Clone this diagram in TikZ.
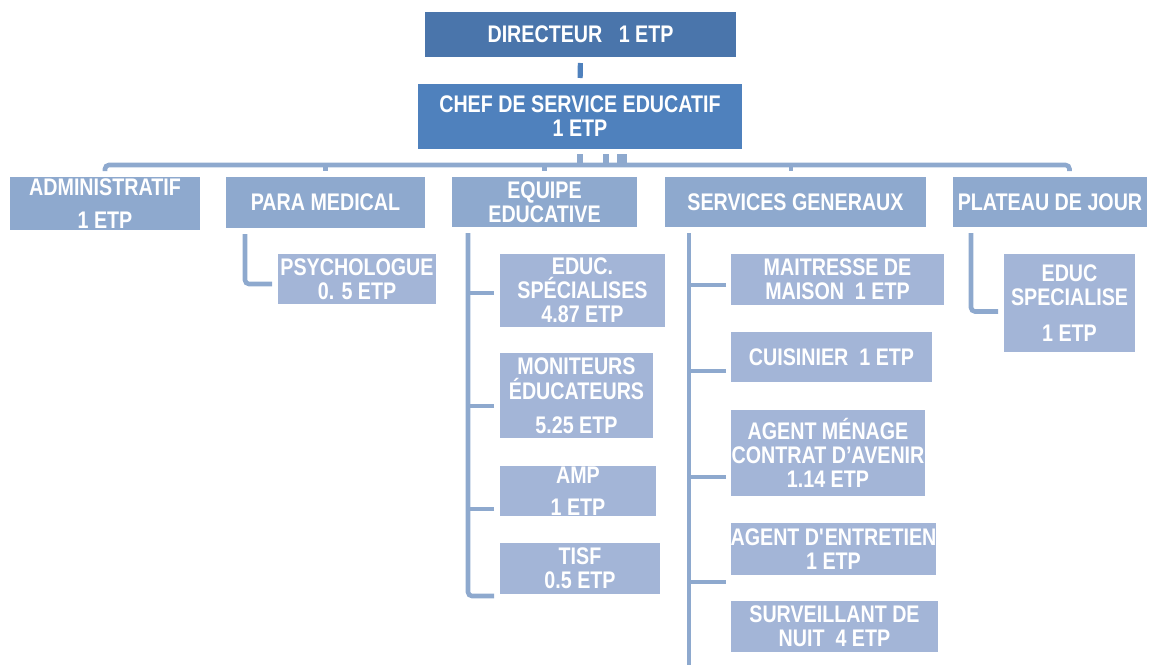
\documentclass[tikz,border=0pt]{standalone}
\usepackage{fontspec}
\setmainfont{Liberation Sans}[FakeStretch=0.82]
\definecolor{c0}{HTML}{4A75AB}
\definecolor{c1}{HTML}{4F81BD}
\definecolor{c2}{HTML}{8EA9CE}
\definecolor{c3}{HTML}{A3B5D7}
\definecolor{cl}{HTML}{8EA9CE}
\newcommand\sqapos{{\XeTeXglyph\XeTeXglyphindex"quotesingle"\relax}}
\begin{document}
\begin{tikzpicture}[x=0.5pt,y=-0.5pt,
  box/.style={inner sep=0pt, outer sep=0pt, align=center, text=white,
    font=\fontsize{12}{12}\selectfont\bfseries},
  b0/.style={box, fill=c0},
  b1/.style={box, fill=c1},
  b2/.style={box, fill=c2},
  b3/.style={box, fill=c3},
  conn/.style={draw=cl, line width=2.3pt},
  stub/.style={draw=cl, line width=3pt}]
\useasboundingbox (0,0) rectangle (1150,664);
% level 0/1
\node[b0, minimum width=155.5pt, minimum height=22.5pt] (dir) at (580.5,34.5) {DIRECTEUR\ \ \ 1 ETP};
\node[b1, minimum width=162pt, minimum height=32.5pt] (chef) at (580,116.5) {CHEF DE SERVICE EDUCATIF\\1 ETP};
% level 2
\node[b2, minimum width=95pt, minimum height=26.5pt] (adm) at (105,203.5) {ADMINISTRATIF\\[4.5pt]1 ETP};
\node[b2, minimum width=99.5pt, minimum height=25.5pt] (para) at (325.5,202.5) {PARA MEDICAL};
\node[b2, minimum width=92.5pt, minimum height=25pt] (equ) at (544.5,202) {EQUIPE\\EDUCATIVE};
\node[b2, minimum width=130.5pt, minimum height=25pt] (serv) at (795.5,202) {SERVICES GENERAUX};
\node[b2, minimum width=97pt, minimum height=25pt] (plat) at (1050,202) {PLATEAU DE JOUR};
% level 3
\node[b3, minimum width=79pt, minimum height=25pt] (psy) at (357,279) {PSYCHOLOGUE\\0. 5 ETP};
\node[b3, minimum width=82.5pt, minimum height=36.5pt] (es) at (582.5,290.5) {EDUC.\\SPÉCIALISES\\4.87 ETP};
\node[b3, minimum width=76.5pt, minimum height=42.5pt] (mon) at (576.5,395.5) {MONITEURS\\[0.5pt]ÉDUCATEURS\\[5pt]5.25 ETP};
\node[b3, minimum width=78pt, minimum height=25pt] (amp) at (578,491) {AMP\\[4pt]1 ETP};
\node[b3, minimum width=80pt, minimum height=25.5pt] (tisf) at (580,568.5) {TISF\\0.5 ETP};
\node[b3, minimum width=106.5pt, minimum height=25.5pt] (mai) at (837.5,279.5) {MAITRESSE DE\\MAISON\ \ 1 ETP};
\node[b3, minimum width=100.5pt, minimum height=25pt] (cui) at (831.5,357) {CUISINIER\ \ 1 ETP};
\node[b3, minimum width=97pt, minimum height=43pt] (men) at (828,453) {AGENT MÉNAGE\\CONTRAT D’AVENIR\\1.14 ETP};
\node[b3, minimum width=102.5pt, minimum height=26pt] (ent) at (833.5,549) {AGENT D\sqapos ENTRETIEN\\1 ETP};
\node[b3, minimum width=103.5pt, minimum height=25.5pt] (sur) at (834.5,626.5) {SURVEILLANT DE\\NUIT\ \ 4 ETP};
\node[b3, minimum width=65.5pt, minimum height=49pt] (edu) at (1069.5,303) {EDUC\\[0.25pt]SPECIALISE\\[5.75pt]1 ETP};
% connectors
\draw[draw=c1, line width=2.6pt, shorten <=3pt, shorten >=3pt] (dir.south) -- (chef.south |- chef.north);
\draw[stub] ([yshift=-2.5pt]chef.south) -- ++(0,-4.5pt);
\draw[stub] ([xshift=13pt,yshift=-2.5pt]chef.south) -- ++(0,-4.5pt);
\draw[stub, line width=5pt] ([xshift=21pt,yshift=-2.5pt]chef.south) -- ++(0,-4.5pt);
\coordinate (busy) at (0,165);
\coordinate (pr) at ([xshift=9.75pt]plat.north);
\draw[conn, rounded corners=2pt] ([yshift=3pt]adm.north) -- (adm.north |- busy) -- (pr |- busy) -- ([yshift=3pt]pr);
\draw[conn] (para.north |- busy) -- ([yshift=3pt]para.north);
\draw[conn] (equ.north |- busy) -- ([yshift=3pt]equ.north);
\coordinate (sr) at ([xshift=-2.25pt]serv.north);
\draw[conn] (sr |- busy) -- ([yshift=3pt]sr);
% para medical
\draw[conn, rounded corners=2pt] ([xshift=9.5pt,yshift=-3pt]para.south west) |- ([xshift=-3pt,yshift=-2.5pt]psy.west);
% equipe educative
\draw[conn, rounded corners=2pt] ([xshift=8pt,yshift=-3pt]equ.south west) |- ([xshift=-3pt,yshift=-13.75pt]tisf.west);
\draw[conn] ([xshift=-3pt,yshift=-1.25pt]es.west) -- ++(-13pt,0);
\draw[conn] ([xshift=-3pt,yshift=-5.25pt]mon.west) -- ++(-13pt,0);
\draw[conn] ([xshift=-3pt,yshift=-9pt]amp.west) -- ++(-13pt,0);
% services generaux
\coordinate (st) at ([xshift=12pt]serv.south west);
\draw[conn] ([yshift=-3pt]st) -- (st |- sur.south) -- ++(0,-8pt);
\draw[conn] ([xshift=-2.5pt,yshift=-2.75pt]mai.west) -- ++(-18.5pt,0);
\draw[conn] ([xshift=-2.5pt,yshift=-7pt]cui.west) -- ++(-18.5pt,0);
\draw[conn] ([xshift=-2.5pt,yshift=-12pt]men.west) -- ++(-18.5pt,0);
\draw[conn] ([xshift=-2.5pt,yshift=-16.5pt]ent.west) -- ++(-18.5pt,0);
% plateau de jour
\draw[conn, rounded corners=2pt] ([xshift=9pt,yshift=-3pt]plat.south west) |- ([xshift=-3pt,yshift=-4.25pt]edu.west);
\end{tikzpicture}
\end{document}
